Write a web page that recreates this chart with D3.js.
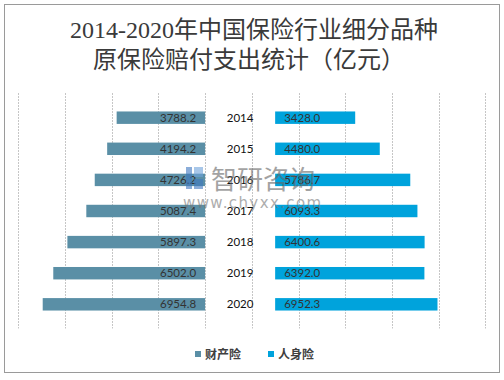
<!DOCTYPE html>
<html>
<head>
<meta charset="utf-8">
<script src="https://cdn.jsdelivr.net/npm/d3@7"></script>
<style>
  html, body { margin: 0; padding: 0; background: #fff; }
  svg { display: block; }
</style>
</head>
<body>
<svg id="chart" width="504" height="380"></svg>
<script>
const years = ["2014", "2015", "2016", "2017", "2018", "2019", "2020"];
const propertyValues = [3788.2, 4194.2, 4726.2, 5087.4, 5897.3, 6502.0, 6954.8];
const lifeValues = [3428.0, 4480.0, 5786.7, 6093.3, 6400.6, 6392.0, 6952.3];
const seriesNames = ["财产险", "人身险"];
const seriesColors = ["#5A8FA6", "#00A3DC"];
const gridTicks = [-8000, -6000, -4000, -2000, 0, 2000, 4000, 6000, 8000, 10000, 12000];
const middleGap = 3000;

const svg = d3.select("#chart");

// border
svg.append("rect").attr("x", 4.5).attr("y", 4.5).attr("width", 495).attr("height", 368)
  .attr("fill", "#fff").attr("stroke", "#9a9a9a").attr("stroke-width", 1);

// title
const title = svg.append("text").attr("text-anchor", "middle")
  .attr("fill", "#3a3a3a")
  .style("font-family", "'Liberation Serif', 'Noto Sans CJK SC', serif")
  .style("font-size", "24px");
title.append("tspan").attr("x", 254).attr("y", 38).text("2014-2020年中国保险行业细分品种");
title.append("tspan").attr("x", 249).attr("y", 68).text("原保险赔付支出统计（亿元）");

const x = d3.scaleLinear().domain([-8000, 12000]).range([18.3, 485.3]);
const y = d3.scaleBand().domain(years).range([92.8, 329.2]).padding(0.6);

// gridlines
svg.append("g").selectAll("line").data(gridTicks).join("line")
  .attr("x1", d => Math.round(x(d)) + 0.5).attr("x2", d => Math.round(x(d)) + 0.5)
  .attr("y1", 93).attr("y2", 328.5)
  .attr("stroke", "#c6c6c6").attr("stroke-width", 1).attr("stroke-dasharray", "2,1");

// property bars (left)
svg.append("g").selectAll("rect").data(years).join("rect")
  .attr("x", (d, i) => x(-propertyValues[i]))
  .attr("y", d => y(d))
  .attr("width", (d, i) => x(0) - x(-propertyValues[i]))
  .attr("height", y.bandwidth())
  .attr("fill", seriesColors[0]);

// life bars (right)
svg.append("g").selectAll("rect").data(years).join("rect")
  .attr("x", x(middleGap))
  .attr("y", d => y(d))
  .attr("width", (d, i) => x(middleGap + lifeValues[i]) - x(middleGap))
  .attr("height", y.bandwidth())
  .attr("fill", seriesColors[1]);

const labelFont = "Lato, 'Open Sans', sans-serif";

// property labels
svg.append("g").selectAll("text").data(years).join("text")
  .attr("x", x(0) - 9)
  .attr("y", d => y(d) + y.bandwidth() / 2)
  .attr("dy", "0.36em")
  .attr("text-anchor", "end")
  .attr("fill", "#333")
  .style("font-family", labelFont).style("font-size", "11.5px")
  .text((d, i) => propertyValues[i].toFixed(1));

// life labels
svg.append("g").selectAll("text").data(years).join("text")
  .attr("x", x(middleGap) + 9)
  .attr("y", d => y(d) + y.bandwidth() / 2)
  .attr("dy", "0.36em")
  .attr("text-anchor", "start")
  .attr("fill", "#333")
  .style("font-family", labelFont).style("font-size", "11.5px")
  .text((d, i) => lifeValues[i].toFixed(1));

// year labels
svg.append("g").selectAll("text").data(years).join("text")
  .attr("x", x(middleGap / 2))
  .attr("y", d => y(d) + y.bandwidth() / 2)
  .attr("dy", "0.36em")
  .attr("text-anchor", "middle")
  .attr("fill", "#111")
  .style("font-family", labelFont).style("font-size", "11.5px")
  .text(d => d);

// watermark
const wm = svg.append("g").attr("opacity", 0.6);
wm.append("rect").attr("x", 186).attr("y", 167).attr("width", 6).attr("height", 22).attr("fill", "#3f78c0");
wm.append("rect").attr("x", 194).attr("y", 167).attr("width", 9).attr("height", 10).attr("fill", "#6fa3dc");
wm.append("rect").attr("x", 194).attr("y", 179).attr("width", 9).attr("height", 10).attr("fill", "#3f78c0");
wm.append("text").attr("x", 211).attr("y", 189).attr("fill", "#666")
  .style("font-family", "'Noto Sans CJK SC', sans-serif").style("font-size", "26px")
  .text("智研咨询");
wm.append("text").attr("x", 183).attr("y", 208).attr("fill", "#777")
  .style("font-family", "'DejaVu Sans', sans-serif").style("font-size", "15px")
  .style("letter-spacing", "1.4px")
  .text("www.chyxx.com");

// legend
const legend = svg.append("g");
const legendX = [195, 268];
seriesNames.forEach((name, i) => {
  legend.append("rect").attr("x", legendX[i]).attr("y", 351).attr("width", 6).attr("height", 6)
    .attr("fill", seriesColors[i]);
  legend.append("text").attr("x", legendX[i] + 10).attr("y", 358.5)
    .attr("fill", "#404040")
    .style("font-family", "'Noto Sans CJK SC', sans-serif").style("font-size", "12px")
    .style("font-weight", "bold")
    .text(name);
});
</script>
</body>
</html>
